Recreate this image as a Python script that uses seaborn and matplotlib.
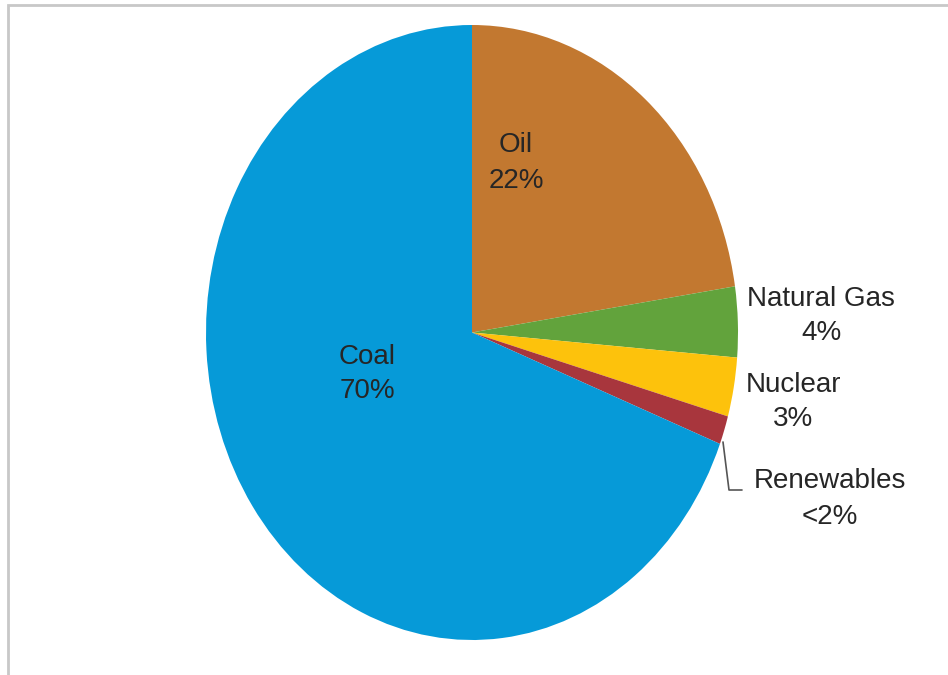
"""
Energy mix pie chart - Coal / Oil / Natural Gas / Nuclear / Renewables
"""

import matplotlib
matplotlib.use('Agg')
import matplotlib.pyplot as plt
from matplotlib.patches import Rectangle
import seaborn as sns

sources = ['Oil', 'Natural Gas', 'Nuclear', 'Renewables', 'Coal']
shares = [22.6, 3.7, 3.1, 1.5, 69.1]
share_labels = ['22%', '4%', '3%', '<2%', '70%']
colors = ['#c27830', '#62a33c', '#fdc20c', '#a8363d', '#069ad8']

sns.set_theme(style='white')
plt.rcParams['font.family'] = ['Liberation Sans', 'DejaVu Sans']

W, H = 948, 675
fig = plt.figure(figsize=(W / 100, H / 100), dpi=100)
fig.patch.set_facecolor('white')

# pie is an ellipse in the reference: x 206..738, y 25..640 (pixels)
x0, x1, y0, y1 = 206, 738, 25, 640
ax = fig.add_axes([x0 / W, (H - y1) / H, (x1 - x0) / W, (y1 - y0) / H])

wedges, _ = ax.pie(shares, colors=colors, startangle=90, counterclock=False,
                   wedgeprops=dict(linewidth=0))
ax.set_aspect('auto')
ax.set_xlim(-1, 1)
ax.set_ylim(-1, 1)
ax.axis('off')


def px(x, y):
    # pixel position -> data coords of the pie axes
    return ((x - x0) / (x1 - x0) * 2 - 1, 1 - (y - y0) / (y1 - y0) * 2)


txt = dict(fontsize=20, color='#262626', ha='center', va='center', linespacing=1.45)
label_pos = {
    'Oil': (516, 163),
    'Natural Gas': (821, 316),
    'Nuclear': (793, 402),
    'Renewables': (830, 499),
    'Coal': (367, 374),
}
for name, lab in zip(sources, share_labels):
    ax.text(*px(*label_pos[name]), f'{name}\n{lab}', clip_on=False, **txt)

# leader line for renewables
lx, ly = zip(px(723, 442), px(729, 490), px(742, 490))
ax.plot(lx, ly, color='#555555', lw=1.2, clip_on=False)

# light frame around the picture
fig.patches.append(Rectangle((8 / W, -0.01), 1.1, (H - 5) / H + 0.01,
                             transform=fig.transFigure, fill=False,
                             edgecolor='#c8c8c8', lw=2))

fig.savefig('out.png', dpi=100)
